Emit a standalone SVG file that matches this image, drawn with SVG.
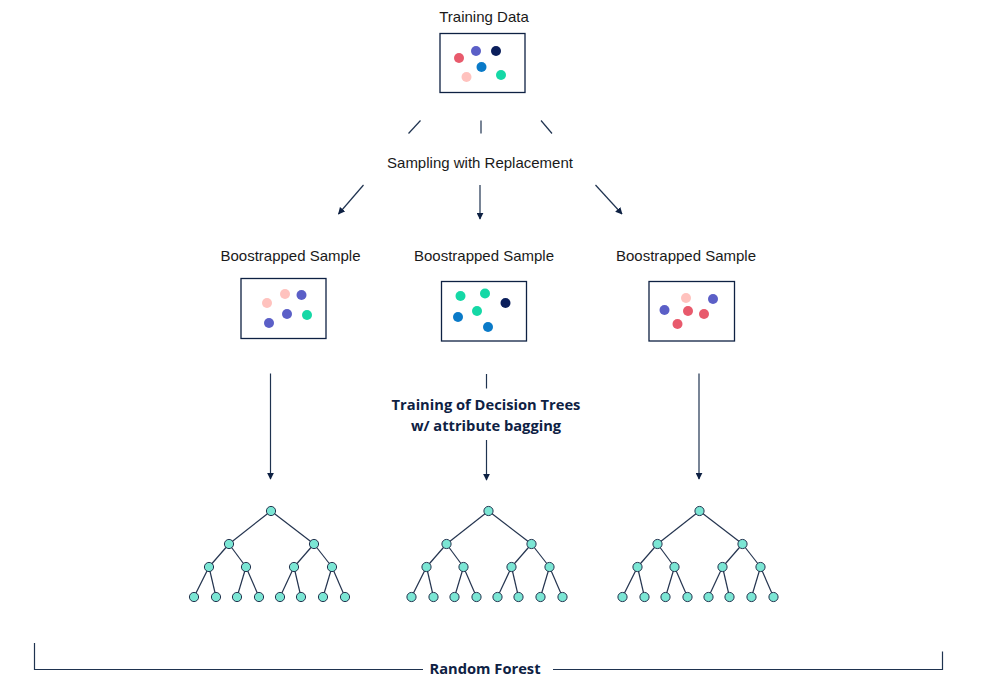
<svg xmlns="http://www.w3.org/2000/svg" width="981" height="700" viewBox="0 0 981 700">
<style>
.lbl{font-family:"Liberation Sans",Arial,sans-serif;font-size:15px;fill:#1a1a1a;text-anchor:middle}
.bold{font-family:"Open Sans","Liberation Sans",sans-serif;font-weight:bold;font-size:14.7px;fill:#0E2143;text-anchor:middle}
.box{fill:#fff;stroke:#0E2143;stroke-width:1.3}
.ln{stroke:#1F3350;stroke-width:1.2;fill:none}
.edge{stroke:#24344f;stroke-width:1.2}
.nd{fill:#7BE6D4;stroke:#24344f;stroke-width:1}
.r{fill:#E85A6C}.p{fill:#5B5FC7}.n{fill:#0B1F5C}.b{fill:#0A7AC8}.k{fill:#FFC2BE}.g{fill:#15D8A6}
</style>
<defs>
<marker id="ah" viewBox="0 0 10 10" refX="9" refY="5" markerWidth="7" markerHeight="7" markerUnits="userSpaceOnUse" orient="auto">
<path d="M0,0L10,5L0,10z" fill="#0E2143"/>
</marker>
<g id="tree">
<g class="edge">
<line x1="0" y1="0" x2="-42" y2="33"/><line x1="0" y1="0" x2="43" y2="33"/>
<line x1="-42" y1="33" x2="-62" y2="56"/><line x1="-42" y1="33" x2="-25" y2="56"/>
<line x1="43" y1="33" x2="23" y2="56"/><line x1="43" y1="33" x2="61" y2="56"/>
<line x1="-62" y1="56" x2="-77" y2="86"/><line x1="-62" y1="56" x2="-55" y2="86"/>
<line x1="-25" y1="56" x2="-34" y2="86"/><line x1="-25" y1="56" x2="-12" y2="86"/>
<line x1="23" y1="56" x2="9" y2="86"/><line x1="23" y1="56" x2="30" y2="86"/>
<line x1="61" y1="56" x2="52" y2="86"/><line x1="61" y1="56" x2="74" y2="86"/>
</g>
<g class="nd">
<circle cx="0" cy="0" r="4.6"/>
<circle cx="-42" cy="33" r="4.6"/><circle cx="43" cy="33" r="4.6"/>
<circle cx="-62" cy="56" r="4.6"/><circle cx="-25" cy="56" r="4.6"/><circle cx="23" cy="56" r="4.6"/><circle cx="61" cy="56" r="4.6"/>
<circle cx="-77" cy="86" r="4.6"/><circle cx="-55" cy="86" r="4.6"/><circle cx="-34" cy="86" r="4.6"/><circle cx="-12" cy="86" r="4.6"/>
<circle cx="9" cy="86" r="4.6"/><circle cx="30" cy="86" r="4.6"/><circle cx="52" cy="86" r="4.6"/><circle cx="74" cy="86" r="4.6"/>
</g>
</g>
</defs>
<rect width="981" height="700" fill="#fff"/>

<g id="training-data">
<text class="lbl" x="484" y="21.5">Training Data</text>
<rect class="box" x="440" y="33.5" width="85" height="59"/>
<circle class="r" cx="459" cy="58" r="5"/>
<circle class="p" cx="476" cy="51" r="5"/>
<circle class="n" cx="496" cy="51" r="5"/>
<circle class="b" cx="481.5" cy="67" r="5"/>
<circle class="k" cx="466.5" cy="77" r="5"/>
<circle class="g" cx="501" cy="75" r="5"/>
</g>

<g id="sampling">
<text class="lbl" x="480" y="167.5">Sampling with Replacement</text>
</g>

<g id="sample-1">
<text class="lbl" x="290.5" y="260.5">Boostrapped Sample</text>
<rect class="box" x="241" y="278.5" width="85" height="60"/>
<circle class="k" cx="267" cy="303" r="5"/>
<circle class="k" cx="285" cy="294" r="5"/>
<circle class="p" cx="301.5" cy="295" r="5"/>
<circle class="p" cx="287" cy="314" r="5"/>
<circle class="g" cx="307" cy="315" r="5"/>
<circle class="p" cx="269" cy="323" r="5"/>
</g>

<g id="sample-2">
<text class="lbl" x="484" y="260.5">Boostrapped Sample</text>
<rect class="box" x="441.5" y="281.5" width="85" height="59.5"/>
<circle class="g" cx="460.5" cy="296" r="5"/>
<circle class="g" cx="485" cy="293.5" r="5"/>
<circle class="n" cx="505.5" cy="303" r="5"/>
<circle class="g" cx="477" cy="311" r="5"/>
<circle class="b" cx="458" cy="317" r="5"/>
<circle class="b" cx="488" cy="327" r="5"/>
</g>

<g id="sample-3">
<text class="lbl" x="686" y="260.5">Boostrapped Sample</text>
<rect class="box" x="649" y="281.5" width="85.5" height="59.5"/>
<circle class="k" cx="686" cy="298" r="5"/>
<circle class="p" cx="713" cy="299" r="5"/>
<circle class="p" cx="664.5" cy="310" r="5"/>
<circle class="r" cx="688" cy="311" r="5"/>
<circle class="r" cx="704" cy="314" r="5"/>
<circle class="r" cx="677.5" cy="324" r="5"/>
</g>

<g id="training-label">
<text class="bold" x="486" y="410">Training of Decision Trees</text>
<text class="bold" x="486" y="431">w/ attribute bagging</text>
</g>

<g id="tree-1"><use href="#tree" x="271" y="511"/></g>
<g id="tree-2"><use href="#tree" x="488.5" y="511"/></g>
<g id="tree-3"><use href="#tree" x="699.5" y="511"/></g>

<g id="random-forest">
<path class="ln" d="M34.5,643 V669.5 H423"/>
<path class="ln" d="M553,669.5 H942.5 V651.5"/>
<text class="bold" x="485" y="674">Random Forest</text>
</g>

<g id="connectors">
<line class="ln" x1="420.5" y1="120.5" x2="408.5" y2="133.5"/>
<line class="ln" x1="481" y1="120.5" x2="481" y2="133.5"/>
<line class="ln" x1="541" y1="120.5" x2="552" y2="133.5"/>
<line class="ln" x1="363.5" y1="185" x2="338.5" y2="214" marker-end="url(#ah)"/>
<line class="ln" x1="480" y1="185" x2="480" y2="219" marker-end="url(#ah)"/>
<line class="ln" x1="595.5" y1="185" x2="622" y2="214" marker-end="url(#ah)"/>
<line class="ln" x1="270.5" y1="373.5" x2="270.5" y2="479" marker-end="url(#ah)"/>
<line class="ln" x1="486.5" y1="374" x2="486.5" y2="388.5"/>
<line class="ln" x1="486.5" y1="440" x2="486.5" y2="480" marker-end="url(#ah)"/>
<line class="ln" x1="699" y1="373.5" x2="699" y2="479" marker-end="url(#ah)"/>
</g>
</svg>
